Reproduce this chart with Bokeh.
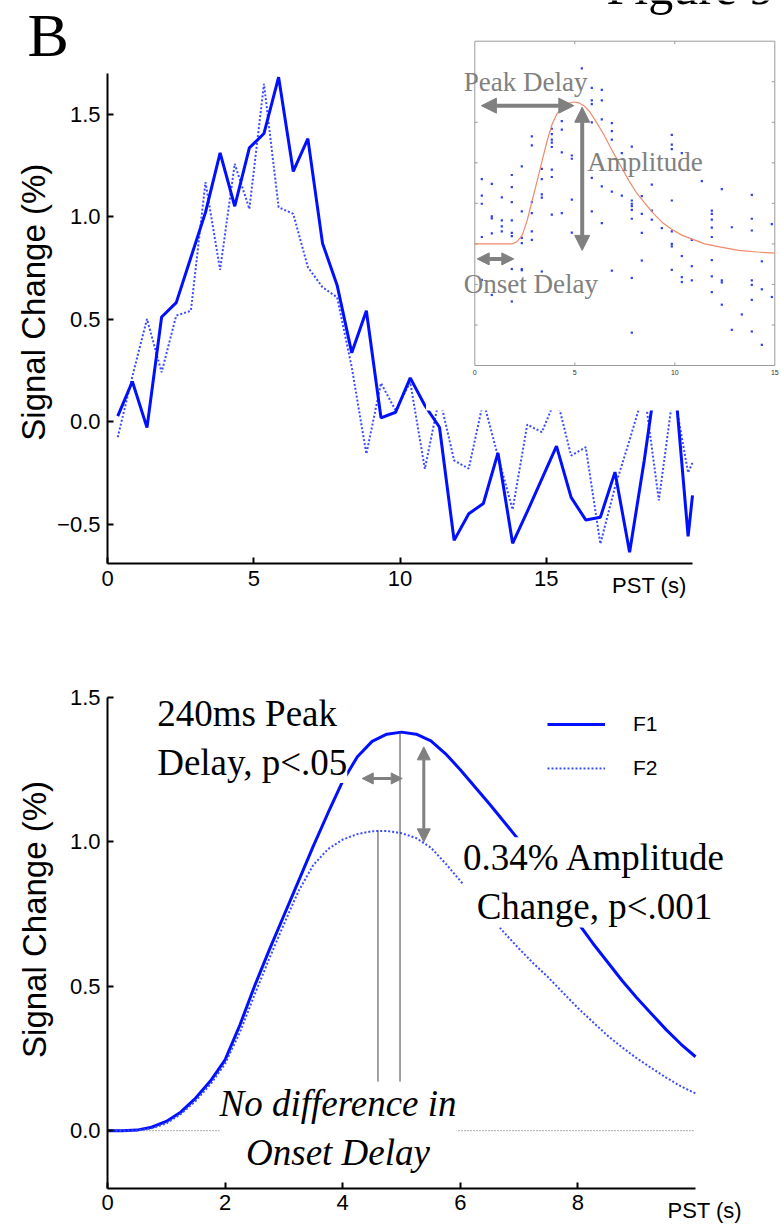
import math
from bokeh.plotting import figure
from bokeh.models import (Range1d, LinearAxis, FixedTicker, Label, Arrow, NormalHead,
                          Legend, LegendItem)
from bokeh.layouts import column
from bokeh.embed import file_html
from bokeh.resources import INLINE
from bokeh.core.properties import value

# ---------------- data: top panel (raw event-related time courses) ----------------
top_t = [0.35, 0.85, 1.35, 1.85, 2.35, 2.85, 3.35, 3.85, 4.35, 4.85,
         5.35, 5.85, 6.35, 6.85, 7.35, 7.85, 8.35, 8.85, 9.35, 9.85,
         10.35, 10.85, 11.35, 11.85, 12.35, 12.85, 13.35, 13.85, 14.35, 14.85,
         15.35, 15.85, 16.35, 16.85, 17.35, 17.85, 18.35, 18.85, 19.35, 19.85, 20.0]
top_f1 = [0.026, 0.195, -0.03, 0.51, 0.58, 0.80, 1.02, 1.31, 1.05, 1.335,
          1.405, 1.68, 1.22, 1.38, 0.87, 0.665, 0.335, 0.54, 0.018, 0.045,
          0.213, 0.078, -0.028, -0.58, -0.45, -0.40, -0.153, -0.594, -0.44, -0.28,
          -0.12, -0.37, -0.48, -0.467, -0.247, -0.638, -0.19, 0.31, 0.27, -0.56, -0.36]
top_f2 = [-0.077, 0.22, 0.50, 0.24, 0.517, 0.54, 1.167, 0.74, 1.257, 1.037,
          1.647, 1.045, 1.013, 0.753, 0.655, 0.606, 0.265, -0.158, 0.187, 0.054,
          0.192, -0.231, 0.12, -0.19, -0.23, 0.10, -0.17, -0.43, -0.015, -0.052,
          0.12, -0.166, -0.125, -0.597, -0.32, -0.09, 0.15, -0.385, 0.15, -0.25, -0.20]
top_xticks = [0, 5, 10, 15]
top_xlabels = ["0", "5", "10", "15"]
top_yticks = [-0.5, 0.0, 0.5, 1.0, 1.5]
top_ylabels = ["\u22120.5", "0.0", "0.5", "1.0", "1.5"]

# ---------------- data: inset (single-trial samples and fitted response) ----------------
inset_t = [0.35, 0.85, 1.35, 1.85, 2.35, 2.85, 3.35, 3.85, 4.35, 4.85,
           5.35, 5.85, 6.35, 6.85, 7.35, 7.85, 8.35, 8.85, 9.35, 9.85,
           10.35, 10.85, 11.35, 11.85, 12.35, 12.85, 13.35, 13.85, 14.35, 14.85]
inset_obs = [
    [1.60, 1.19, 0.99, 0.17, -0.89],
    [1.48, 0.68, 0.63, 0.26, -1.26],
    [1.15, 0.58, 0.43, 0.31],
    [1.70, 1.40, 1.03, 0.58, 0.27, 0.19, -0.62, -1.42],
    [1.91, 0.80, 0.15, 0.02, -0.62, -0.65],
    [2.65, 2.43, 1.03, 0.76, 0.31, 0.10],
    [1.85, 1.60, 1.22, 1.14, -0.68],
    [2.84, 2.71, 2.57, 2.50, 2.39, 1.83, 1.65, 0.72],
    [3.03, 2.82, 2.26, 0.76],
    [2.18, 2.10, 1.09, 0.28],
    [4.33],
    [3.85, 3.54, 3.45, 3.00, 1.63, 0.80],
    [3.80, 3.54, 3.07, 1.42, 0.51],
    [2.98, 2.78, 2.57, 1.29, -0.66],
    [2.24, 1.19],
    [2.40, 1.07, 0.99, 0.93, 0.84, 0.62, -0.84, -2.19],
    [1.18, 0.74, 0.27, -0.41],
    [1.46, 0.82, 0.60],
    [0.39],
    [2.69, 2.45, 2.34, 1.07, 0.31, 0.00, -0.06, -0.64],
    [2.24, -0.30, -0.82, -0.94],
    [0.10, -0.55, -0.90],
    [1.55],
    [0.82, 0.74, 0.60, 0.40, 0.17, -0.40, -0.80, -1.19],
    [1.35, -0.90, -0.95, -1.50],
    [0.41, -2.12],
    [-1.74],
    [1.21, 0.62, 0.33, -0.90, -1.01, -1.38, -2.16],
    [-0.43, -1.12, -2.49],
    [0.49, -1.31],
]
fit_t = [0.0, 1.87, 2.12, 2.37, 2.62, 2.87, 3.12, 3.37, 3.62, 3.87, 4.12, 4.37, 4.62,
         4.95, 5.2, 5.45, 5.75, 6.03, 6.45, 6.87, 7.3, 7.7, 8.1, 8.53, 8.95, 9.37,
         9.85, 10.37, 11.5, 12.3, 13.2, 14.1, 15.0]
fit_y = [0.0, 0.0, 0.06, 0.21, 0.58, 1.07, 1.56, 2.06, 2.55, 2.96, 3.22, 3.37, 3.46,
         3.50, 3.48, 3.41, 3.26, 3.04, 2.70, 2.30, 1.92, 1.56, 1.25, 0.99, 0.74, 0.53,
         0.36, 0.21, 0.0, -0.08, -0.16, -0.20, -0.23]
inset_xticks = [0, 5, 10, 15]
inset_yticks = [-2, -1, 0, 1, 2, 3, 4]
inset_xlim = (0, 15)
inset_ylim = (-3, 5)

# ---------------- data: bottom panel (fitted responses) ----------------
bot_t = [0.0, 0.25, 0.5, 0.75, 1.0, 1.25, 1.5, 1.75, 2.0, 2.25, 2.5, 2.75, 3.0,
         3.25, 3.5, 3.75, 4.0, 4.25, 4.5, 4.75, 5.0, 5.25, 5.5, 5.75, 6.0, 6.25,
         6.5, 6.75, 7.0, 7.25, 7.5, 7.75, 8.0, 8.25, 8.5, 8.75, 9.0, 9.25, 9.5, 9.75, 10.0]
bot_f1 = [0.0, 0.0, 0.002, 0.012, 0.032, 0.065, 0.113, 0.172, 0.245, 0.365, 0.50, 0.625, 0.745,
          0.865, 0.985, 1.10, 1.21, 1.295, 1.348, 1.373, 1.38, 1.373, 1.35, 1.305, 1.25, 1.19,
          1.13, 1.068, 1.005, 0.94, 0.87, 0.795, 0.72, 0.65, 0.585, 0.52, 0.46, 0.405, 0.35, 0.30, 0.256]
bot_f2 = [0.0, 0.0, 0.001, 0.008, 0.025, 0.058, 0.103, 0.16, 0.232, 0.34, 0.47, 0.595, 0.715,
          0.83, 0.92, 0.975, 1.008, 1.027, 1.037, 1.038, 1.03, 1.013, 0.98, 0.925, 0.865, 0.805,
          0.745, 0.685, 0.63, 0.578, 0.53, 0.477, 0.425, 0.377, 0.33, 0.289, 0.251, 0.217, 0.184, 0.154, 0.129]
peak_t = [4.60, 4.975]
peak_amp = [1.04, 1.38]
bot_xticks = [0, 2, 4, 6, 8]
bot_xlabels = ["0", "2", "4", "6", "8"]
bot_yticks = [0.0, 0.5, 1.0, 1.5]
bot_ylabels = ["0.0", "0.5", "1.0", "1.5"]

BLUE = "#0010ff"
BLUE2 = "#3a4cff"
GRAY = "#808080"
SANS = "Liberation Sans"
SERIF = "Liberation Serif"


def style_axis(ax, ticks, labels):
    ax.ticker = FixedTicker(ticks=ticks, minor_ticks=[])
    ax.major_label_overrides = {t: s for t, s in zip(ticks, labels)}
    ax.axis_line_width = 2
    ax.axis_line_color = "black"
    ax.major_tick_in = 6
    ax.major_tick_out = 0
    ax.major_tick_line_width = 2
    ax.minor_tick_in = 0
    ax.minor_tick_out = 0
    ax.major_label_text_font = SANS
    ax.major_label_text_font_size = "22px"
    ax.major_label_text_color = "black"
    ax.major_label_standoff = 7


def bare_figure(w, h, xr, yr):
    f = figure(width=w, height=h, x_range=Range1d(*xr), y_range=Range1d(*yr),
               output_backend="svg", toolbar_location=None,
               min_border_left=0, min_border_right=0, min_border_top=0, min_border_bottom=0,
               x_axis_location=None, y_axis_location=None)
    f.outline_line_color = None
    f.grid.visible = False
    return f


def arrow(fig, x0, y0, x1, y1, size, width, **kw):
    fig.add_layout(Arrow(x_start=x0, y_start=y0, x_end=x1, y_end=y1,
                         start=NormalHead(size=size, fill_color=GRAY, line_color=GRAY, line_width=1),
                         end=NormalHead(size=size, fill_color=GRAY, line_color=GRAY, line_width=1),
                         line_color=GRAY, line_width=width, **kw))


# ======================= TOP PANEL =======================
top = bare_figure(781, 608, (-3.6581, 23.0427), (-0.9122, 2.0537))
top.extra_x_ranges = {"ix": Range1d(-23.715, 15.335)}
top.extra_y_ranges = {"iy": Range1d(-8.994, 6.004)}

xa = LinearAxis(bounds=(0, 20), fixed_location=-0.6927)
style_axis(xa, top_xticks, top_xlabels)
top.add_layout(xa, "below")
ya = LinearAxis(bounds=(-0.6927, 1.70), fixed_location=0)
style_axis(ya, top_yticks, top_ylabels)
top.add_layout(ya, "left")

top.line(top_t, top_f2, line_color=BLUE2, line_width=2, line_dash="2 2")
top.line(top_t, top_f1, line_color=BLUE, line_width=3)

# white background of the inset picture
top.quad(left=10.89, right=30, bottom=0.054, top=5, fill_color="white", line_color=None)

# inset frame, ticks and tick labels
IX = dict(x_range_name="ix", y_range_name="iy")
top.quad(left=inset_xlim[0], right=inset_xlim[1], bottom=inset_ylim[0], top=inset_ylim[1],
         fill_color=None, line_color="#9a9a9a", line_width=1, **IX)
tx = [t for t in inset_xticks if inset_xlim[0] < t < inset_xlim[1]]
dy = 3 / 40.54
dx = 3 / 20.0
top.segment(x0=tx + tx, y0=[inset_ylim[0]] * len(tx) + [inset_ylim[1]] * len(tx),
            x1=tx + tx, y1=[inset_ylim[0] + dy] * len(tx) + [inset_ylim[1] - dy] * len(tx),
            line_color="#9a9a9a", line_width=1, **IX)
top.segment(x0=[inset_xlim[0]] * len(inset_yticks) + [inset_xlim[1]] * len(inset_yticks),
            y0=inset_yticks + inset_yticks,
            x1=[inset_xlim[0] + dx] * len(inset_yticks) + [inset_xlim[1] - dx] * len(inset_yticks),
            y1=inset_yticks + inset_yticks, line_color="#9a9a9a", line_width=1, **IX)
top.text(x=inset_xticks, y=[inset_ylim[0] - 0.173] * len(inset_xticks),
         text=[str(t) for t in inset_xticks], text_font=value(SANS), text_font_size=value("7px"),
         text_align="center", text_baseline="middle", text_color="#333333", **IX)

sx = [t for t, col in zip(inset_t, inset_obs) for _ in col]
sy = [v for col in inset_obs for v in col]
top.scatter(sx, sy, marker="square", size=2.2, fill_color="#2a3cff", line_color=None, **IX)
top.line(fit_t, fit_y, line_color="#f08a6a", line_width=1.2, **IX)

arrow(top, 0.33, 3.41, 4.95, 3.41, 15, 4, **IX)
arrow(top, 5.37, 3.37, 5.37, -0.16, 15, 4, **IX)
arrow(top, 0.12, -0.37, 1.95, -0.37, 12, 4, **IX)
for txt, lx, ly in [("Peak Delay", -0.55, 4.37), ("Amplitude", 5.62, 2.40), ("Onset Delay", -0.55, -0.61)]:
    top.add_layout(Label(x=lx, y=ly, text=txt, text_font=SERIF, text_font_size="27px",
                         text_color=GRAY, text_baseline="top", **IX))

top.add_layout(Label(x=-2.735, y=2.05, text="B", text_font=SERIF, text_font_size="62px",
                     text_color="black", text_baseline="top"))
top.add_layout(Label(x=17.06, y=2.255, text="Figure 9", text_font=SERIF, text_font_size="50px",
                     text_color="black", text_baseline="top"))
top.add_layout(Label(x=-2.53, y=0.582, text="Signal Change (%)", angle=math.pi / 2,
                     text_font=SANS, text_font_size="33px", text_align="center",
                     text_baseline="middle", text_color="black"))
top.add_layout(Label(x=17.25, y=-0.741, text="PST (s)", text_font=SANS, text_font_size="22px",
                     text_baseline="top", text_color="black"))

# ======================= BOTTOM PANEL =======================
bot = bare_figure(781, 623, (-1.8197, 11.4626), (-0.349, 1.808))
bxa = LinearAxis(bounds=(0, 10), fixed_location=-0.2)
style_axis(bxa, bot_xticks, bot_xlabels)
bot.add_layout(bxa, "below")
bya = LinearAxis(bounds=(-0.2, 1.5), fixed_location=0)
style_axis(bya, bot_yticks, bot_ylabels)
bot.add_layout(bya, "left")

bot.line([bot_t[0], bot_t[-1]], [0, 0], line_color="#555555", line_width=1, line_dash="1 2")
r1 = bot.line(bot_t, bot_f1, line_color=BLUE, line_width=3)
r2 = bot.line(bot_t, bot_f2, line_color=BLUE2, line_width=2, line_dash="2 2")
bot.segment(x0=peak_t, y0=[0.17, 0.17], x1=peak_t, y1=peak_amp, line_color="#444444", line_width=1)

arrow(bot, 4.332, 1.2195, 5.012, 1.2195, 11, 3)
arrow(bot, 5.379, 1.329, 5.379, 1.0, 13, 3)

legend = Legend(items=[LegendItem(label="F1", renderers=[r1]), LegendItem(label="F2", renderers=[r2])],
                location=(547, 451), orientation="vertical", border_line_color=None,
                background_fill_alpha=0, padding=0, margin=0, spacing=20,
                glyph_width=58, glyph_height=24, label_height=24, label_standoff=28,
                label_text_font=SANS, label_text_font_size="21px", label_text_color="black")
bot.add_layout(legend)

bot.add_layout(Label(x=0.845, y=1.516, text="240ms Peak\nDelay, p<.05", text_font=SERIF,
                     text_font_size="37px", text_align="left", text_baseline="top",
                     background_fill_color="white", text_color="black"))
bot.add_layout(Label(x=8.282, y=1.016, text="0.34% Amplitude\nChange, p<.001", text_font=SERIF,
                     text_font_size="37px", text_align="center", text_baseline="top",
                     background_fill_color="white", text_color="black"))
bot.add_layout(Label(x=3.92, y=0.166, text="No difference in\nOnset Delay", text_font=SERIF,
                     text_font_size="37px", text_font_style="italic", text_align="center",
                     text_baseline="top", background_fill_color="white", text_color="black"))
bot.add_layout(Label(x=-1.2415, y=0.7314, text="Signal Change (%)", angle=math.pi / 2,
                     text_font=SANS, text_font_size="33px", text_align="center",
                     text_baseline="middle", text_color="black"))
bot.add_layout(Label(x=9.524, y=-0.2346, text="PST (s)", text_font=SANS, text_font_size="22px",
                     text_baseline="top", text_color="black"))

layout = column(top, bot, spacing=0)
open("out.html", "w").write(file_html(layout, INLINE))
